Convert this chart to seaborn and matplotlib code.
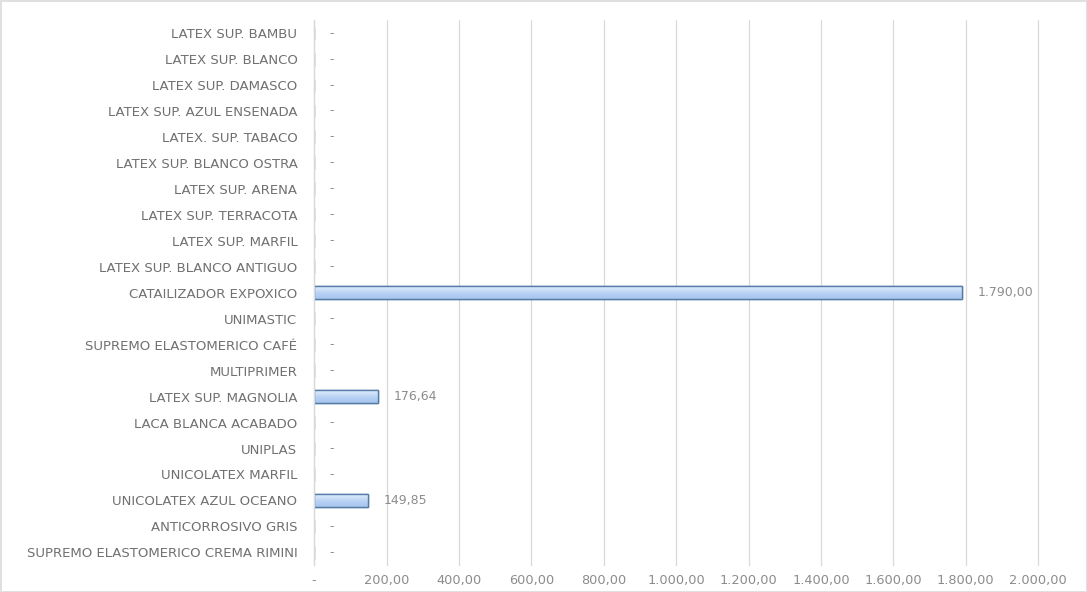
import matplotlib
matplotlib.use("Agg")
import matplotlib.pyplot as plt
import seaborn as sns
import numpy as np
import pandas as pd
from matplotlib.colors import LinearSegmentedColormap

categories = [
    "LATEX SUP. BAMBU", "LATEX SUP. BLANCO", "LATEX SUP. DAMASCO",
    "LATEX SUP. AZUL ENSENADA", "LATEX. SUP. TABACO", "LATEX SUP. BLANCO OSTRA",
    "LATEX SUP. ARENA", "LATEX SUP. TERRACOTA", "LATEX SUP. MARFIL",
    "LATEX SUP. BLANCO ANTIGUO", "CATAILIZADOR EXPOXICO", "UNIMASTIC",
    "SUPREMO ELASTOMERICO CAFÉ", "MULTIPRIMER", "LATEX SUP. MAGNOLIA",
    "LACA BLANCA ACABADO", "UNIPLAS", "UNICOLATEX MARFIL",
    "UNICOLATEX AZUL OCEANO", "ANTICORROSIVO GRIS",
    "SUPREMO ELASTOMERICO CREMA RIMINI",
]
values = [0, 0, 0, 0, 0, 0, 0, 0, 0, 0, 1790.00, 0, 0, 0, 176.64, 0, 0, 0, 149.85, 0, 0]
xticks = [0, 200, 400, 600, 800, 1000, 1200, 1400, 1600, 1800, 2000]


def fmt(v):
    if v == 0:
        return "-"
    s = f"{v:,.2f}"
    return s.replace(",", "X").replace(".", ",").replace("X", ".")


df = pd.DataFrame({"cat": categories, "val": values})

sns.set_theme(style="white")
plt.rcParams["font.family"] = ["DejaVu Sans"]

fig = plt.figure(figsize=(10.87, 5.92), dpi=100)
fig.patch.set_edgecolor("#e0e0e0")
fig.patch.set_linewidth(1.0)
ax = fig.add_axes([0.289, 0.045, 0.666, 0.921])

edge = "#557ba6"
sns.barplot(data=df, x="val", y="cat", orient="h", color="#bcd5f5",
            edgecolor=edge, linewidth=1.0, width=0.5, ax=ax,
            saturation=1)

# gradient fill within bars
grad = np.linspace(0, 1, 64).reshape(-1, 1)
cmap = LinearSegmentedColormap.from_list("g", ["#e3eefc", "#bad4f6", "#a6c4ee"])
for p in list(ax.patches):
    w = p.get_width()
    if w <= 0:
        continue
    x0, y0 = p.get_x(), p.get_y()
    h = p.get_height()
    im = ax.imshow(grad, extent=[x0, x0 + w, y0 + h, y0], aspect="auto",
                   cmap=cmap, zorder=p.get_zorder() + 0.1, origin="upper")
    im.set_clip_path(p)
    ax.add_patch(plt.Rectangle((x0, y0), w, h, fill=False, edgecolor=edge,
                               linewidth=1.0, zorder=p.get_zorder() + 0.2))

ax.set_xlim(0, 2000)
ax.set_ylim(len(categories) - 0.5, -0.5)
ax.set_xticks(xticks)
ax.set_xticklabels([fmt(v) for v in xticks], color="#8c8c8c", fontsize=9.3)
ax.set_yticks(range(len(categories)))
ax.set_yticklabels(categories, color="#707070", fontsize=9.5)
ax.tick_params(axis="y", length=0, pad=12)
ax.tick_params(axis="x", length=0, pad=6)
ax.set_xlabel("")
ax.set_ylabel("")

ax.grid(axis="x", color="#d9d9d9", linewidth=0.9)
for gl in ax.get_xgridlines():
    gl.set_clip_on(False)
ax.set_axisbelow(True)
for s in ["top", "right", "bottom"]:
    ax.spines[s].set_visible(False)
ax.spines["left"].set_color("#d9d9d9")
ax.spines["left"].set_linewidth(0.9)

for i, v in enumerate(values):
    ax.annotate(fmt(v), (v, i), xytext=(11, 0), textcoords="offset points",
                va="center", ha="left", fontsize=9, color="#8c8c8c")

fig.savefig("out.png", dpi=100)
